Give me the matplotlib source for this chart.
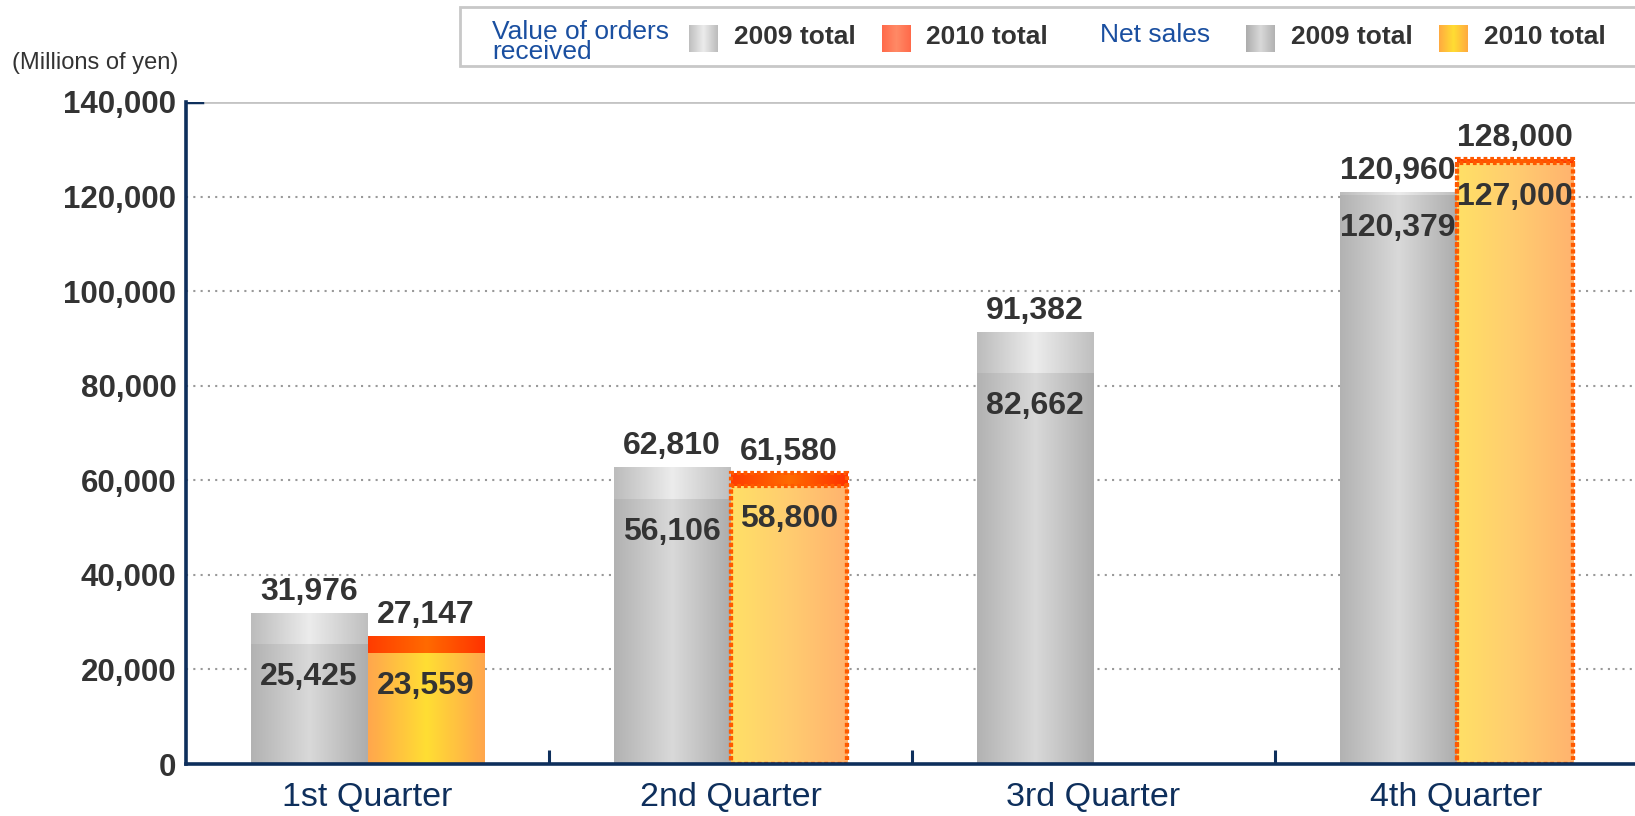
# -*- coding: utf-8 -*-

"""
Output: out.png
Orders received and net sales by quarter, 2009 vs 2010
"""

### 0 ### Imports

import numpy as np
import matplotlib
matplotlib.use("Agg")
import matplotlib.pyplot as plt
from matplotlib.colors import LinearSegmentedColormap
from matplotlib.patches import Rectangle

plt.rcParams['font.family'] = ['Liberation Sans', 'DejaVu Sans']
plt.rcParams['savefig.facecolor'] = 'white'

# data
quarters = ['1st Quarter', '2nd Quarter', '3rd Quarter', '4th Quarter']
orders_2009 = [31976, 62810, 91382, 120960]
sales_2009 = [25425, 56106, 82662, 120379]
orders_2010 = [27147, 61580, np.nan, 128000]
sales_2010 = [23559, 58800, np.nan, 127000]
forecast_2010 = [False, True, False, True]
yticks = [0, 20000, 40000, 60000, 80000, 100000, 120000, 140000]

# colours
navy = '#0e2f5c'
blue = '#1a4fa0'
text_col = '#333333'
g_orders09 = ['#bfbfbf', '#ececec', '#bcbcbc']
g_sales09 = ['#adadad', '#d9d9d9', '#b2b2b2']
g_orders10 = ['#ff3c00', '#ff6a00', '#ff3300']
g_sales10 = ['#ffa64d', '#ffde33', '#ffa64d']
g_sales10_fc = ['#ffe066', '#ffcc70', '#ffb36e']
g_leg_orders10 = ['#ff6a4a', '#ff8a66', '#ff6a4a']
g_leg_sales10 = ['#ffaa40', '#ffdd33', '#ffaa40']


def gradient_fill(ax, bar, colors, z):
    # fill a bar with a horizontal gradient clipped to the bar
    x0, y0 = bar.get_xy()
    w, h = bar.get_width(), bar.get_height()
    cmap = LinearSegmentedColormap.from_list('g', colors)
    img = ax.imshow(np.linspace(0, 1, 256).reshape(1, -1), cmap=cmap,
                    extent=(x0, x0 + w, y0, y0 + h), aspect='auto',
                    interpolation='bilinear', zorder=z)
    img.set_clip_path(bar)


### 1 ### Chart

fig = plt.figure(figsize=(16.35, 8.16), dpi=100)
ax = fig.add_axes([186 / 1635, 1 - 764 / 816, 1 - 186 / 1635, 662 / 816])

x = np.arange(len(quarters))
w = 0.322

bars_o9 = ax.bar(x, orders_2009, -w, align='edge', facecolor='none', edgecolor='none', zorder=2)
bars_s9 = ax.bar(x, sales_2009, -w, align='edge', facecolor='none', edgecolor='none', zorder=3)
bars_o10 = ax.bar(x, orders_2010, w, align='edge', facecolor='none', edgecolor='none', zorder=2)
bars_s10 = ax.bar(x, sales_2010, w, align='edge', facecolor='none', edgecolor='none', zorder=3)

for i in range(len(quarters)):
    gradient_fill(ax, bars_o9[i], g_orders09, 2)
    gradient_fill(ax, bars_s9[i], g_sales09, 3)
    if np.isnan(orders_2010[i]):
        continue
    gradient_fill(ax, bars_o10[i], g_orders10, 2)
    gradient_fill(ax, bars_s10[i], g_sales10_fc if forecast_2010[i] else g_sales10, 3)
    if forecast_2010[i]:
        for b in (bars_o10[i], bars_s10[i]):
            b.set_edgecolor('#ff5a00')
            b.set_linestyle((0, (0.9, 0.7)))
            b.set_linewidth(3.0)
            b.set_zorder(4)

# value labels
lab = dict(ha='center', fontsize=23, fontweight='bold', color=text_col,
           textcoords='offset points', zorder=6)
for i in range(len(quarters)):
    xc = x[i] - w / 2
    ax.annotate(f'{orders_2009[i]:,}', (xc, orders_2009[i]), xytext=(0, 4), va='bottom', **lab)
    ax.annotate(f'{sales_2009[i]:,}', (xc, sales_2009[i]), xytext=(0, -13), va='top', **lab)
    if np.isnan(orders_2010[i]):
        continue
    xc = x[i] + w / 2
    ax.annotate(f'{int(orders_2010[i]):,}', (xc, orders_2010[i]), xytext=(0, 4), va='bottom', **lab)
    ax.annotate(f'{int(sales_2010[i]):,}', (xc, sales_2010[i]), xytext=(0, -13), va='top', **lab)

# axes
ax.set_xlim(-0.5, 3.5 - 3 / 363)
ax.set_ylim(0, 140000)
ax.set_yticks(yticks)
ax.set_yticklabels([f'{v:,}' for v in yticks], fontsize=22.5, fontweight='bold', color=text_col)
ax.tick_params(axis='y', length=0, pad=7)

ax.set_xticks(x[:-1] + 0.5)
ax.set_xticklabels([])
ax.tick_params(axis='x', which='major', direction='in', length=10, width=2.2, color=navy)
ax.set_xticks(x, minor=True)
ax.set_xticklabels(quarters, minor=True, fontsize=24.5, color=navy)
ax.tick_params(axis='x', which='minor', length=0, pad=13)

for v in yticks[1:-1]:
    ax.axhline(v, color='#999999', lw=1.5, ls=(0, (1, 2.5)), zorder=1)
ax.axhline(yticks[-1], color='#c4c4c4', lw=2, zorder=1)
ax.axhline(yticks[-1], xmax=0.011, color=navy, lw=2.5, zorder=5)

ax.spines['top'].set_visible(False)
ax.spines['right'].set_visible(False)
for s in ('left', 'bottom'):
    ax.spines[s].set_color(navy)
    ax.spines[s].set_linewidth(2.6)
    ax.spines[s].set_zorder(5)

fig.text(12 / 1635, 1 - 63 / 816, '(Millions of yen)', fontsize=17, color=text_col, va='center')


### 2 ### Legend (drawn by hand in pixel space)

lg = fig.add_axes([0, 0, 1, 1], facecolor='none')
lg.set_xlim(0, 1635)
lg.set_ylim(816, 0)
lg.axis('off')
lg.add_patch(Rectangle((460, 7), 1200, 59, facecolor='white', edgecolor='#c8c8c8', lw=2))


def swatch(x0, colors):
    r = Rectangle((x0, 25), 29, 27, facecolor='none', edgecolor='none')
    lg.add_patch(r)
    cmap = LinearSegmentedColormap.from_list('s', colors)
    img = lg.imshow(np.linspace(0, 1, 64).reshape(1, -1), cmap=cmap,
                    extent=(x0, x0 + 29, 52, 25), aspect='auto', zorder=3)
    img.set_clip_path(r)


lg.text(492, 42, 'Value of orders\nreceived', fontsize=19, color=blue, va='center', linespacing=0.8)
swatch(689, g_orders09)
lg.text(734, 37, '2009 total', fontsize=19, fontweight='bold', color=text_col, va='center')
swatch(882, g_leg_orders10)
lg.text(926, 37, '2010 total', fontsize=19, fontweight='bold', color=text_col, va='center')
lg.text(1100, 35, 'Net sales', fontsize=19, color=blue, va='center')
swatch(1246, g_sales09)
lg.text(1291, 37, '2009 total', fontsize=19, fontweight='bold', color=text_col, va='center')
swatch(1439, g_leg_sales10)
lg.text(1484, 37, '2010 total', fontsize=19, fontweight='bold', color=text_col, va='center')
lg.set_xlim(0, 1635)
lg.set_ylim(816, 0)


### 3 ### Export

fig.savefig('out.png', dpi=100)
